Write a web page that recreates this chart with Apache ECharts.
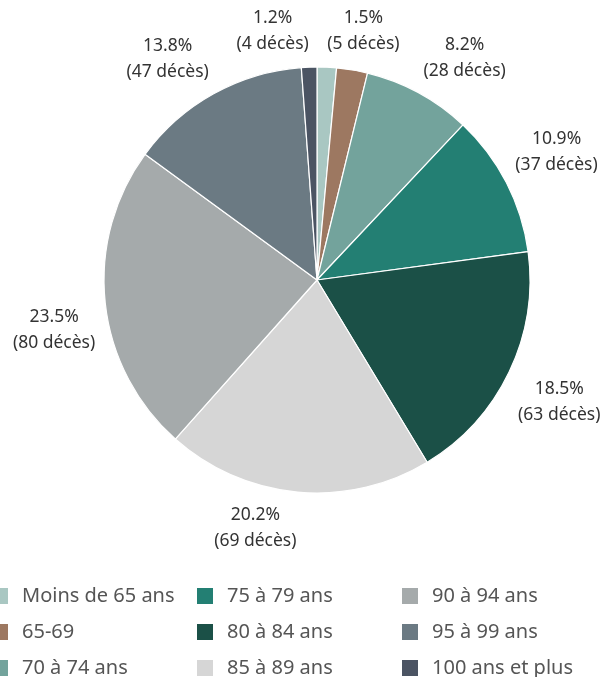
<!DOCTYPE html>
<html>
<head>
<meta charset="utf-8">
<script src="https://cdn.jsdelivr.net/npm/echarts@6/dist/echarts.min.js"></script>
<style>
html,body{margin:0;padding:0;background:#fff;}
#chart{width:604px;height:677px;}
</style>
</head>
<body>
<div id="chart"></div>
<script>
var categories = ['Moins de 65 ans','65-69','70 à 74 ans','75 à 79 ans','80 à 84 ans','85 à 89 ans','90 à 94 ans','95 à 99 ans','100 ans et plus'];
var deaths = [5, 8, 28, 37, 63, 69, 80, 47, 4];
var colors = ['#a9c7c2','#9d7861','#73a39c','#237f73','#1b5047','#d6d6d6','#a5aaab','#6b7a83','#4b5463'];
var hiddenLabels = ['65-69'];
var legendColumns = [
  ['Moins de 65 ans','65-69','70 à 74 ans'],
  ['75 à 79 ans','80 à 84 ans','85 à 89 ans'],
  ['90 à 94 ans','95 à 99 ans','100 ans et plus']
];

var total = deaths.reduce(function(a,b){return a+b;},0);
var CX = 317, CY = 280, R = 213, GAP = 10;
var cum = [];
(function(){ var s=0; for (var i=0;i<deaths.length;i++){ cum.push(s + deaths[i]/2); s += deaths[i]; } })();

var FONT = '"Noto Sans"';
var chart = echarts.init(document.getElementById('chart'), null, {renderer:'canvas'});
var legendLefts = [-10, 195, 400];
var option = {
  animation: false,
  color: colors,
  legend: legendColumns.map(function(col, k){
    return {
      data: col,
      orient: 'vertical',
      left: legendLefts[k],
      top: 586,
      height: 120,
      padding: 0,
      itemGap: 16,
      icon: 'rect',
      itemWidth: 18,
      itemHeight: 18,
      selectedMode: false,
      textStyle: {fontSize: 20, lineHeight: 18, color: '#555', fontFamily: FONT, padding:[0,0,0,8]}
    };
  }),
  series: [{
    type: 'pie',
    center: [CX, CY],
    radius: R,
    startAngle: 90,
    clockwise: true,
    avoidLabelOverlap: false,
    itemStyle: {borderColor: '#fff', borderWidth: 1.2},
    label: {
      show: true,
      position: 'outside',
      color: '#333',
      fontSize: 17.5,
      lineHeight: 26,
      fontFamily: FONT,
      align: 'center',
      formatter: function(p){
        return (p.value/total*100).toFixed(1) + '%\n(' + p.value + ' décès)';
      }
    },
    labelLine: {show: false},
    labelLayout: function(p){
      var idx = p.dataIndex;
      var th = cum[idx]/total*2*Math.PI;
      var s = Math.sin(th), c = Math.cos(th);
      var hw = p.labelRect.width/2, hh = p.labelRect.height/2;
      var x = CX + s*(R+GAP) + (s>=0?1:-1)*hw;
      var y = CY - c*(R+GAP) + (c>=0?-1:1)*hh;
      return {x: x, y: y, align: 'center', verticalAlign: 'middle'};
    },
    emphasis: {disabled: true},
    data: categories.map(function(n, i){
      var d = {name: n, value: deaths[i]};
      if (hiddenLabels.indexOf(n) >= 0) d.label = {show: false};
      return d;
    })
  }]
};
chart.setOption(option);
</script>
</body>
</html>
